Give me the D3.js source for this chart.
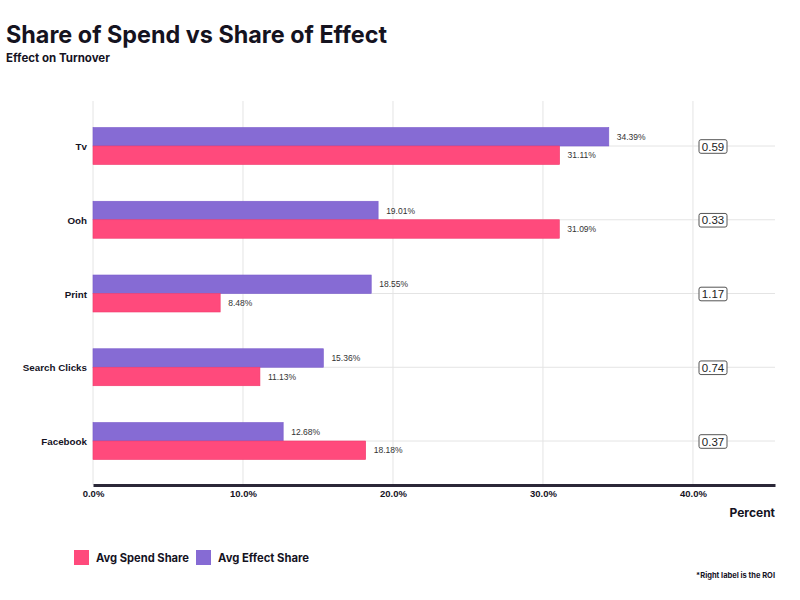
<!DOCTYPE html>
<html>
<head>
<script src="https://d3js.org/d3.v7.min.js"></script>
<style>
  body { margin: 0; background: #fff; }
  text { font-family: "Liberation Sans", Arial, sans-serif; }
  .title { font-family: Inter, sans-serif; font-weight: 700; }
</style>
</head>
<body>
<svg id="chart" width="800" height="600"></svg>
<script>
var channels = ["Tv", "Ooh", "Print", "Search Clicks", "Facebook"];
var spendShare = [31.11, 31.09, 8.48, 11.13, 18.18];
var effectShare = [34.39, 19.01, 18.55, 15.36, 12.68];
var roi = [0.59, 0.33, 1.17, 0.74, 0.37];
var xTicks = [0, 10, 20, 30, 40];

var pink = "#ff4a7c", purple = "#866bd4";
var svg = d3.select("#chart");

var x = d3.scaleLinear().domain([0, 45.47]).range([93, 775]);
var y = d3.scalePoint().domain(channels).range([146, 441]);
var barH = 18.5;
var axisY = 485;

// titles
svg.append("text").attr("class", "title").attr("x", 6).attr("y", 43)
  .attr("font-size", 24).attr("textLength", 381).attr("lengthAdjust", "spacingAndGlyphs")
  .attr("fill", "#15131f").text("Share of Spend vs Share of Effect");
svg.append("text").attr("class", "title").attr("x", 6).attr("y", 62)
  .attr("font-size", 11.5).attr("fill", "#15131f").text("Effect on Turnover");

// vertical grid
svg.selectAll("line.vgrid").data(xTicks).enter().append("line")
  .attr("class", "vgrid")
  .attr("x1", d => x(d)).attr("x2", d => x(d))
  .attr("y1", 101).attr("y2", axisY)
  .attr("stroke", "#e4e4e4").attr("stroke-width", 1);

// horizontal grid
svg.selectAll("line.hgrid").data(channels).enter().append("line")
  .attr("class", "hgrid")
  .attr("x1", x(0)).attr("x2", 775)
  .attr("y1", d => y(d)).attr("y2", d => y(d))
  .attr("stroke", "#e4e4e4").attr("stroke-width", 1);

var rows = channels.map((c, i) => ({ name: c, spend: spendShare[i], effect: effectShare[i], roi: roi[i] }));

// effect bars (top)
svg.selectAll("rect.effect").data(rows).enter().append("rect")
  .attr("class", "effect")
  .attr("x", x(0)).attr("y", d => y(d.name) - barH)
  .attr("width", d => x(d.effect) - x(0)).attr("height", barH)
  .attr("fill", purple).attr("stroke", "#7a5ccc").attr("stroke-width", 0.6);

// spend bars (bottom)
svg.selectAll("rect.spend").data(rows).enter().append("rect")
  .attr("class", "spend")
  .attr("x", x(0)).attr("y", d => y(d.name))
  .attr("width", d => x(d.spend) - x(0)).attr("height", barH)
  .attr("fill", pink).attr("stroke", "#f03a6c").attr("stroke-width", 0.6);

// value labels
svg.selectAll("text.effectLbl").data(rows).enter().append("text")
  .attr("x", d => x(d.effect) + 8).attr("y", d => y(d.name) - barH / 2 + 3)
  .attr("font-size", 8.5).attr("fill", "#333").text(d => d.effect.toFixed(2) + "%");
svg.selectAll("text.spendLbl").data(rows).enter().append("text")
  .attr("x", d => x(d.spend) + 8).attr("y", d => y(d.name) + barH / 2 + 3)
  .attr("font-size", 8.5).attr("fill", "#333").text(d => d.spend.toFixed(2) + "%");

// category labels
svg.selectAll("text.cat").data(channels).enter().append("text")
  .attr("x", 87).attr("y", d => y(d) + 4)
  .attr("text-anchor", "end").attr("font-size", 9.8).attr("font-weight", 700)
  .attr("fill", "#15131f").text(d => d);

// ROI boxes
var roiG = svg.selectAll("g.roi").data(rows).enter().append("g")
  .attr("transform", d => "translate(713," + (y(d.name) + 0.5) + ")");
roiG.append("rect").attr("x", -14).attr("y", -6.8).attr("width", 28).attr("height", 13.6)
  .attr("rx", 2).attr("fill", "#fff").attr("stroke", "#555").attr("stroke-width", 1);
roiG.append("text").attr("text-anchor", "middle").attr("y", 4.2)
  .attr("font-size", 11.5).attr("fill", "#222").text(d => d.roi.toFixed(2));

// x axis
var axis = svg.append("g").attr("transform", "translate(0," + axisY + ")")
  .call(d3.axisBottom(x).tickValues(xTicks).tickSize(0).tickFormat(d => d.toFixed(1) + "%"));
axis.select(".domain").attr("stroke", "#2b2838").attr("stroke-width", 3);
axis.selectAll("text").attr("dy", 0).attr("y", 12).attr("font-size", 9.5)
  .attr("font-weight", 700).attr("fill", "#15131f")
  .attr("font-family", "Inter, sans-serif");

svg.append("text").attr("class", "title").attr("x", 775).attr("y", 517)
  .attr("text-anchor", "end").attr("font-size", 12).attr("font-weight", 600)
  .attr("fill", "#15131f").text("Percent");

// legend
var legend = [
  { label: "Avg Spend Share", color: pink, x: 74, w: 93 },
  { label: "Avg Effect Share", color: purple, x: 196, w: 91 }
];
var lg = svg.selectAll("g.lg").data(legend).enter().append("g")
  .attr("transform", d => "translate(" + d.x + ",550)");
lg.append("rect").attr("width", 15).attr("height", 15).attr("fill", d => d.color);
lg.append("text").attr("class", "title").attr("x", 22).attr("y", 12)
  .attr("font-size", 11.5).attr("font-weight", 600).attr("fill", "#15131f")
  .attr("textLength", d => d.w).attr("lengthAdjust", "spacingAndGlyphs")
  .text(d => d.label);

svg.append("text").attr("class", "title").attr("x", 775).attr("y", 578)
  .attr("text-anchor", "end").attr("font-size", 7.5).attr("font-weight", 600)
  .attr("fill", "#15131f").text("*Right label is the ROI");
</script>
</body>
</html>
